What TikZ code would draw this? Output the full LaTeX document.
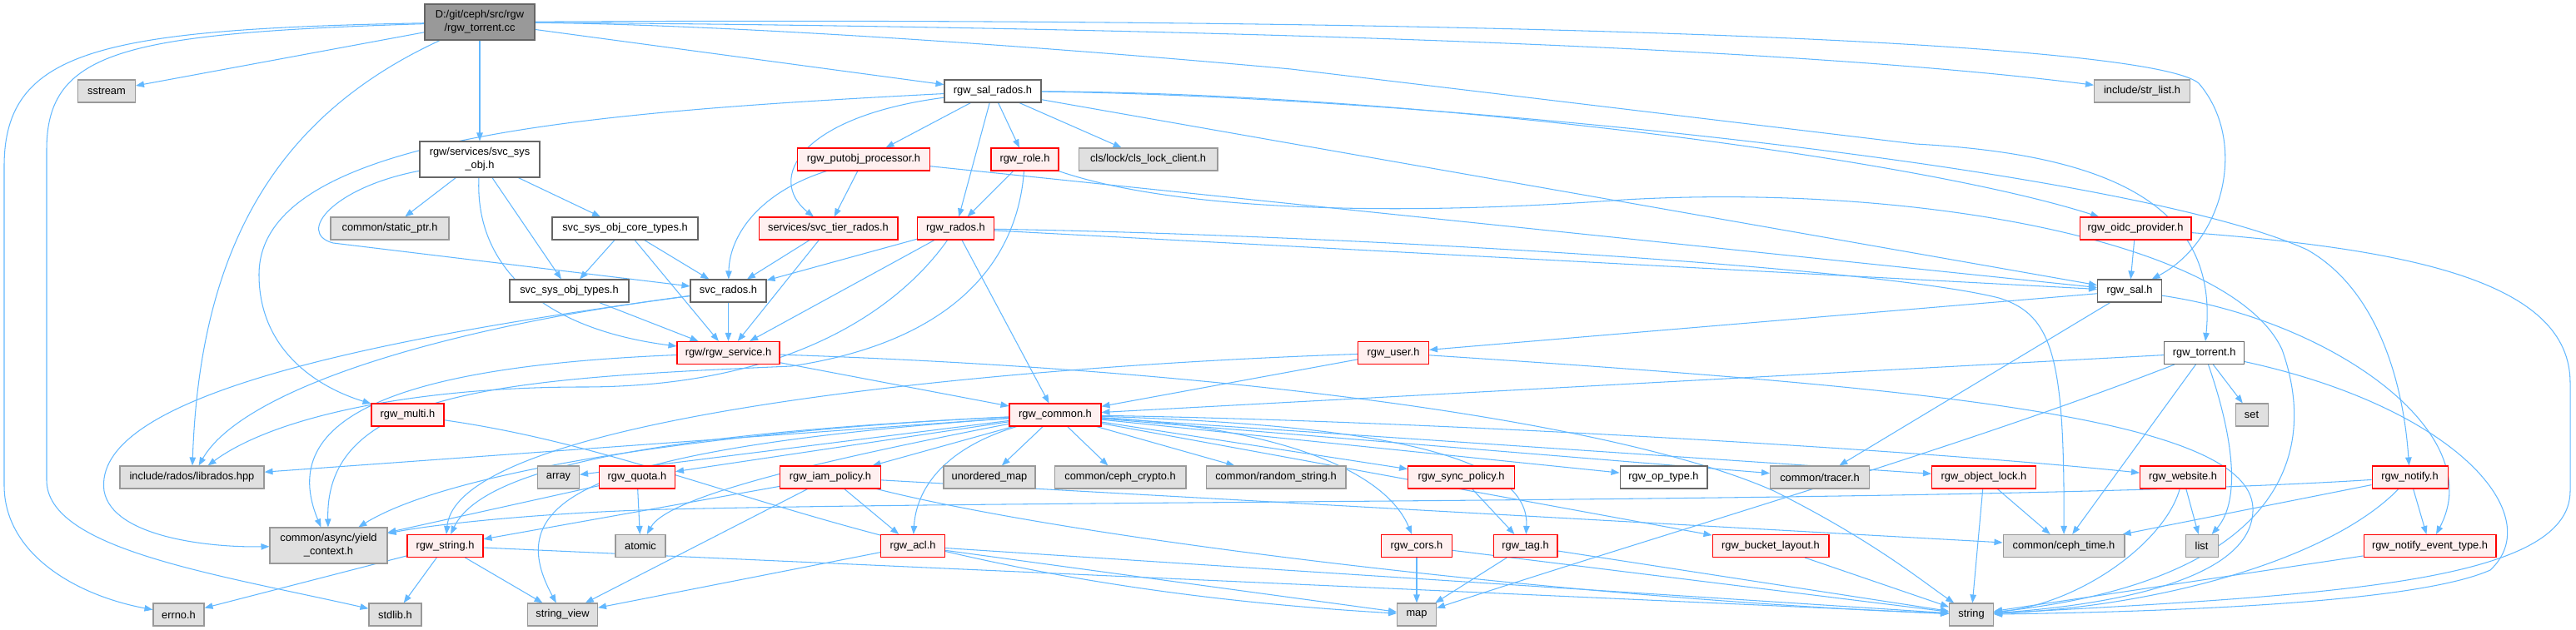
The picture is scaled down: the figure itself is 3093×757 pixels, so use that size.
\documentclass[tikz,border=0pt]{standalone}
\usepackage{fontspec}
\setmainfont{Liberation Sans}
\usepackage{xcolor}
\usetikzlibrary{arrows.meta,backgrounds}

\definecolor{edgeblue}{HTML}{63B8FF}
\definecolor{rootfill}{HTML}{999999}
\definecolor{darkline}{HTML}{666666}
\definecolor{extfill}{HTML}{E0E0E0}
\definecolor{extline}{HTML}{999999}
\definecolor{redfill}{HTML}{FFF0F0}
\definecolor{redline}{HTML}{FF0000}

\begin{document}
\begin{tikzpicture}[x=0.02cm,y=-0.02cm,
  box/.style={draw,rectangle,inner sep=0pt,minimum height=0.54cm,align=center,
    line width=0.6pt,font=\fontsize{7.3}{9}\selectfont},
  rootbox/.style={box,fill=rootfill,draw=darkline,minimum height=0.86cm},
  whitebox/.style={box,fill=white,draw=darkline},
  graybox/.style={box,fill=extfill,draw=extline},
  redbox/.style={box,fill=redfill,draw=redline},
  dep/.style={draw=edgeblue,line width=0.6pt,-{Triangle[length=0.2cm,width=0.15cm]}}]
  \useasboundingbox (0,0) rectangle (3093,757);

  % rank 0 and 1
  \node[rootbox,minimum width=2.64cm] (root) at (576,26.5) {D:/git/ceph/src/rgw\\/rgw\_torrent.cc};
  \node[graybox,minimum width=1.38cm] (sstream) at (128,109.5) {sstream};
  \node[whitebox,minimum width=2.32cm] (salrados) at (1192,109.5) {rgw\_sal\_rados.h};
  \node[graybox,minimum width=2.30cm] (strlist) at (2572,109.5) {include/str\_list.h};

  % rank 2
  \node[whitebox,minimum width=2.88cm,minimum height=0.86cm] (svcsysobj) at (576,191.5) {rgw/services/svc\_sys\\\_obj.h};
  \node[redbox,minimum width=3.18cm] (putobj) at (1037,191.5) {rgw\_putobj\_processor.h};
  \node[redbox,minimum width=1.62cm] (role) at (1230.5,191.5) {rgw\_role.h};
  \node[graybox,minimum width=3.34cm] (clslock) at (1378.5,191.5) {cls/lock/cls\_lock\_client.h};

  % rank 3
  \node[graybox,minimum width=2.84cm] (staticptr) at (468,274.5) {common/static\_ptr.h};
  \node[whitebox,minimum width=3.50cm] (coretypes) at (750.5,274.5) {svc\_sys\_obj\_core\_types.h};
  \node[redbox,minimum width=3.34cm] (tierrados) at (994.5,274.5) {services/svc\_tier\_rados.h};
  \node[redbox,minimum width=1.83cm] (rados) at (1147.5,274.5) {rgw\_rados.h};
  \node[redbox,minimum width=2.68cm] (oidc) at (2564,274.5) {rgw\_oidc\_provider.h};

  % rank 4
  \node[whitebox,minimum width=2.86cm] (sysobjtypes) at (683.5,349.5) {svc\_sys\_obj\_types.h};
  \node[whitebox,minimum width=1.82cm] (svcrados) at (874.5,349.5) {svc\_rados.h};
  \node[whitebox,minimum width=1.54cm] (sal) at (2557,349.5) {rgw\_sal.h};

  % rank 5
  \node[redbox,minimum width=2.46cm] (service) at (874.5,424) {rgw/rgw\_service.h};
  \node[redbox,minimum width=1.70cm] (user) at (1673,424) {rgw\_user.h};
  \node[whitebox,minimum width=1.92cm] (torrent) at (2646.6,424) {rgw\_torrent.h};

  % rank 6
  \node[redbox,minimum width=1.74cm] (multi) at (489.5,498.5) {rgw\_multi.h};
  \node[redbox,minimum width=2.20cm] (common) at (1267,498.5) {rgw\_common.h};
  \node[graybox,minimum width=0.78cm] (set) at (2703.5,498.5) {set};

  % rank 7
  \node[graybox,minimum width=3.46cm] (librados) at (230.5,573.5) {include/rados/librados.hpp};
  \node[graybox,minimum width=1.00cm] (array) at (670.5,573.5) {array};
  \node[redbox,minimum width=1.82cm] (quota) at (765,573.5) {rgw\_quota.h};
  \node[redbox,minimum width=2.42cm] (iam) at (997,573.5) {rgw\_iam\_policy.h};
  \node[graybox,minimum width=2.20cm] (umap) at (1188,573.5) {unordered\_map};
  \node[graybox,minimum width=3.16cm] (crypto) at (1345,573.5) {common/ceph\_crypto.h};
  \node[graybox,minimum width=3.36cm] (randstr) at (1532,573.5) {common/random\_string.h};
  \node[redbox,minimum width=2.56cm] (sync) at (1754.6,573.5) {rgw\_sync\_policy.h};
  \node[whitebox,minimum width=2.10cm] (optype) at (1997.5,573.5) {rgw\_op\_type.h};
  \node[graybox,minimum width=2.38cm] (tracer) at (2185,573.5) {common/tracer.h};
  \node[redbox,minimum width=2.50cm] (objlock) at (2382,573.5) {rgw\_object\_lock.h};
  \node[redbox,minimum width=2.06cm] (website) at (2621,573.5) {rgw\_website.h};
  \node[redbox,minimum width=1.82cm] (notify) at (2893.5,573.5) {rgw\_notify.h};

  % rank 8
  \node[graybox,minimum width=2.82cm,minimum height=0.86cm] (yield) at (394.5,655.5) {common/async/yield\\\_context.h};
  \node[redbox,minimum width=1.82cm] (rgwstring) at (534.5,656) {rgw\_string.h};
  \node[graybox,minimum width=1.20cm] (atomic) at (769,656) {atomic};
  \node[redbox,minimum width=1.53cm] (acl) at (1096,656) {rgw\_acl.h};
  \node[redbox,minimum width=1.70cm] (cors) at (1701,656) {rgw\_cors.h};
  \node[redbox,minimum width=1.54cm] (tag) at (1831.5,656) {rgw\_tag.h};
  \node[redbox,minimum width=2.80cm] (bucketlayout) at (2126,656) {rgw\_bucket\_layout.h};
  \node[graybox,minimum width=2.92cm] (cephtime) at (2478,656) {common/ceph\_time.h};
  \node[graybox,minimum width=0.78cm] (list) at (2643.5,656) {list};
  \node[redbox,minimum width=3.18cm] (notifyevt) at (2917.5,656) {rgw\_notify\_event\_type.h};

  % rank 9
  \node[graybox,minimum width=1.22cm] (errno) at (214.5,738.5) {errno.h};
  \node[graybox,minimum width=1.26cm] (stdlib) at (474.5,738.5) {stdlib.h};
  \node[graybox,minimum width=1.68cm] (strview) at (675.5,738.5) {string\_view};
  \node[graybox,minimum width=0.94cm] (map) at (1701,738.5) {map};
  \node[graybox,minimum width=1.06cm] (string) at (2367,738.5) {string};

  \begin{scope}[on background layer]
  % includes of the root file
  \draw[dep] (root) .. controls (120,35) and (5,60) .. (5,200) -- (5,583) .. controls (5,665) and (90,715) .. (errno);
  \draw[dep] (root) .. controls (150,40) and (56,60) .. (56,180) -- (56,577) .. controls (56,660) and (260,690) .. (stdlib);
  \draw[dep] (root) -- (sstream);
  \draw[dep] (root) .. controls (330,140) and (240,300) .. (librados);
  \draw[dep] (root) -- (svcsysobj);
  \draw[dep] (root) -- (salrados);
  \draw[dep] (root) .. controls (1300,32) and (2100,50) .. (strlist);
  \draw[dep] (root) .. controls (1800,20) and (2580,50) .. (2640,100) .. controls (2700,170) and (2670,290) .. (sal);
  \draw[dep] (root) .. controls (900,30) and (1300,60) .. (1550,83) -- (2300,173) .. controls (2520,185) and (2665,240) .. (torrent);

  % rgw_sal_rados.h
  \draw[dep] (salrados) .. controls (700,135) and (311,165) .. (311,330) .. controls (311,420) and (380,465) .. (multi);
  \draw[dep] (salrados) .. controls (960,140) and (920,215) .. (tierrados);
  \draw[dep] (salrados) -- (putobj);
  \draw[dep] (salrados) -- (rados);
  \draw[dep] (salrados) -- (role);
  \draw[dep] (salrados) -- (clslock);
  \draw[dep] (salrados) -- (sal);
  \draw[dep] (salrados) .. controls (1700,112) and (2300,190) .. (oidc);
  \draw[dep] (salrados) .. controls (1700,115) and (2550,200) .. (2770,300) .. controls (2850,345) and (2885,450) .. (notify);

  % services
  \draw[dep] (svcsysobj) -- (staticptr);
  \draw[dep] (svcsysobj) -- (coretypes);
  \draw[dep] (svcsysobj) -- (sysobjtypes);
  \draw[dep] (svcsysobj) .. controls (400,225) and (355,280) .. (400,292) -- (svcrados);
  \draw[dep] (svcsysobj) .. controls (570,320) and (650,395) .. (service);
  \draw[dep] (coretypes) -- (sysobjtypes);
  \draw[dep] (coretypes) -- (svcrados);
  \draw[dep] (coretypes) -- (service);
  \draw[dep] (sysobjtypes) -- (service);
  \draw[dep] (svcrados) -- (service);
  \draw[dep] (svcrados) .. controls (420,410) and (110,480) .. (125,590) .. controls (135,645) and (250,658) .. (yield);
  \draw[dep] (svcrados) .. controls (520,395) and (290,470) .. (librados);
  \draw[dep] (tierrados) -- (svcrados);
  \draw[dep] (tierrados) -- (service);
  \draw[dep] (putobj) .. controls (915,230) and (876,280) .. (svcrados);
  \draw[dep] (putobj) -- (tierrados);
  \draw[dep] (putobj) -- (sal);

  % rgw_role.h and rgw_rados.h
  \draw[dep] (role) -- (rados);
  \draw[dep] (role) .. controls (1222,310) and (1150,410) .. (950,440) .. controls (600,455) and (390,470) .. (yield);
  \draw[dep] (role) .. controls (1400,250) and (1650,262) .. (1950,240) .. controls (2300,220) and (2680,290) .. (2740,420) .. controls (2790,560) and (2720,700) .. (string);
  \draw[dep] (rados) -- (svcrados);
  \draw[dep] (rados) -- (service);
  \draw[dep] (rados) -- (common);
  \draw[dep] (rados) -- (sal);
  \draw[dep] (rados) .. controls (1080,370) and (950,465) .. (700,465) .. controls (500,465) and (330,500) .. (librados);
  \draw[dep] (rados) .. controls (1600,282) and (2250,320) .. (2400,358) .. controls (2465,378) and (2479,430) .. (cephtime);

  % rgw_oidc_provider.h and rgw_sal.h
  \draw[dep] (oidc) -- (sal);
  \draw[dep] (oidc) .. controls (2900,300) and (3086,340) .. (3086,460) -- (3086,590) .. controls (3086,700) and (2800,715) .. (string);
  \draw[dep] (sal) -- (user);
  \draw[dep] (sal) -- (tracer);
  \draw[dep] (sal) .. controls (2800,385) and (2990,520) .. (notifyevt);

  % rgw_service.h, rgw_user.h, rgw_torrent.h
  \draw[dep] (service) -- (common);
  \draw[dep] (service) .. controls (1500,445) and (1950,510) .. (2130,590) .. controls (2250,650) and (2310,700) .. (string);
  \draw[dep] (service) .. controls (480,440) and (330,500) .. (yield);
  \draw[dep] (user) -- (common);
  \draw[dep] (user) .. controls (1200,440) and (550,500) .. (rgwstring);
  \draw[dep] (user) .. controls (2300,465) and (2700,500) .. (2705,610) .. controls (2708,700) and (2520,728) .. (string);
  \draw[dep] (torrent) -- (common);
  \draw[dep] (torrent) -- (cephtime);
  \draw[dep] (torrent) -- (set);
  \draw[dep] (torrent) .. controls (2680,520) and (2692,600) .. (list);
  \draw[dep] (torrent) .. controls (2350,540) and (2000,640) .. (map);
  \draw[dep] (torrent) .. controls (2950,490) and (3060,620) .. (2990,685) .. controls (2900,725) and (2600,735) .. (string);
  \draw[dep] (multi) .. controls (850,550) and (1050,700) .. (map);

  % rgw_common.h
  \draw[dep] (common) -- (librados);
  \draw[dep] (common) -- (array);
  \draw[dep] (common) -- (quota);
  \draw[dep] (common) -- (iam);
  \draw[dep] (common) -- (umap);
  \draw[dep] (common) -- (crypto);
  \draw[dep] (common) -- (randstr);
  \draw[dep] (common) -- (sync);
  \draw[dep] (common) -- (optype);
  \draw[dep] (common) -- (tracer);
  \draw[dep] (common) -- (objlock);
  \draw[dep] (common) .. controls (1700,505) and (2300,540) .. (website);
  \draw[dep] (common) -- (bucketlayout);
  \draw[dep] (common) .. controls (1130,540) and (1100,590) .. (acl);
  \draw[dep] (common) .. controls (950,560) and (800,600) .. (atomic);
  \draw[dep] (common) .. controls (900,515) and (550,560) .. (yield);
  \draw[dep] (common) .. controls (800,520) and (580,560) .. (rgwstring);
  \draw[dep] (common) .. controls (700,540) and (600,600) .. (strview);
  \draw[dep] (common) .. controls (1550,515) and (1665,570) .. (cors);
  \draw[dep] (common) .. controls (1620,510) and (1838,540) .. (tag);

  % lower headers
  \draw[dep] (quota) -- (atomic);
  \draw[dep] (quota) -- (yield);
  \draw[dep] (iam) -- (rgwstring);
  \draw[dep] (iam) -- (strview);
  \draw[dep] (iam) -- (acl);
  \draw[dep] (iam) -- (cephtime);
  \draw[dep] (iam) .. controls (1300,650) and (1900,720) .. (string);
  \draw[dep] (acl) -- (strview);
  \draw[dep] (acl) -- (map);
  \draw[dep] (acl) -- (string);
  \draw[dep] (rgwstring) -- (errno);
  \draw[dep] (rgwstring) -- (stdlib);
  \draw[dep] (rgwstring) -- (strview);
  \draw[dep] (rgwstring) -- (string);
  \draw[dep] (sync) -- (tag);
  \draw[dep] (cors) -- (map);
  \draw[dep] (cors) -- (string);
  \draw[dep] (tag) -- (map);
  \draw[dep] (tag) -- (string);
  \draw[dep] (bucketlayout) -- (string);
  \draw[dep] (objlock) -- (string);
  \draw[dep] (objlock) -- (cephtime);
  \draw[dep] (website) -- (list);
  \draw[dep] (website) .. controls (2600,650) and (2500,725) .. (string);
  \draw[dep] (notify) -- (notifyevt);
  \draw[dep] (notify) -- (cephtime);
  \draw[dep] (notify) .. controls (2800,670) and (2600,728) .. (string);
  \draw[dep] (notify) .. controls (2400,605) and (1300,600) .. (800,612) .. controls (650,616) and (520,630) .. (yield);
  \draw[dep] (notifyevt) -- (string);
  \end{scope}
\end{tikzpicture}
\end{document}
